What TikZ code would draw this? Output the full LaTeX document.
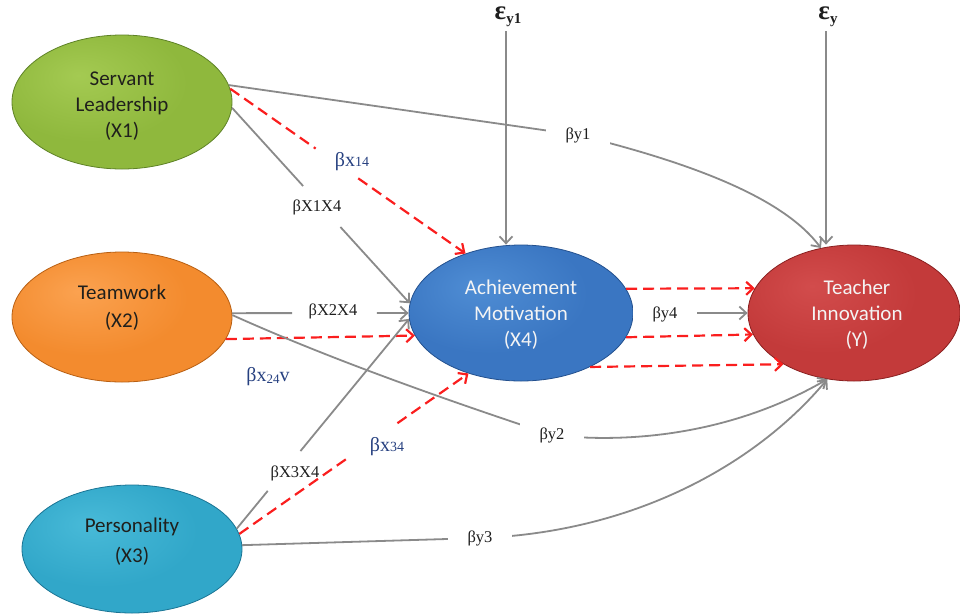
\documentclass[tikz,border=0pt]{standalone}
\usepackage{fontspec}
\setmainfont{Liberation Serif}
\newfontfamily\carl{Carlito}
\usetikzlibrary{shapes.geometric,arrows.meta,calc}

\definecolor{lgray}{RGB}{138,138,138}
\definecolor{lred}{RGB}{250,30,30}
\definecolor{navy}{RGB}{38,64,128}
\definecolor{lblk}{RGB}{30,30,30}
\definecolor{dtext}{RGB}{32,32,28}
\definecolor{wtext}{RGB}{244,244,244}

\definecolor{gL}{HTML}{A4CA52}\definecolor{gB}{HTML}{8FB83D}\definecolor{gE}{HTML}{72982F}\definecolor{gR}{HTML}{5E8226}
\definecolor{oL}{HTML}{FBA250}\definecolor{oB}{HTML}{F38B2E}\definecolor{oE}{HTML}{D3721C}\definecolor{oR}{HTML}{B85F12}
\definecolor{tL}{HTML}{48BAD8}\definecolor{tB}{HTML}{31A7C9}\definecolor{tE}{HTML}{238BAE}\definecolor{tR}{HTML}{1A7494}
\definecolor{bL}{HTML}{4F8DD4}\definecolor{bB}{HTML}{3A76C2}\definecolor{bE}{HTML}{2B61A8}\definecolor{bR}{HTML}{23508E}
\definecolor{rL}{HTML}{D24C4C}\definecolor{rB}{HTML}{C33A3A}\definecolor{rE}{HTML}{A42B2B}\definecolor{rR}{HTML}{8A2020}

\pgfdeclareradialshading{shgreen}{\pgfpoint{-10bp}{10bp}}{color(0bp)=(gL); color(22bp)=(gB); color(40bp)=(gB); color(47bp)=(gE); color(50bp)=(gR); color(75bp)=(gR)}
\pgfdeclareradialshading{shorange}{\pgfpoint{-10bp}{10bp}}{color(0bp)=(oL); color(22bp)=(oB); color(40bp)=(oB); color(47bp)=(oE); color(50bp)=(oR); color(75bp)=(oR)}
\pgfdeclareradialshading{shteal}{\pgfpoint{-10bp}{10bp}}{color(0bp)=(tL); color(22bp)=(tB); color(40bp)=(tB); color(47bp)=(tE); color(50bp)=(tR); color(75bp)=(tR)}
\pgfdeclareradialshading{shblue}{\pgfpoint{-10bp}{10bp}}{color(0bp)=(bL); color(22bp)=(bB); color(40bp)=(bB); color(47bp)=(bE); color(50bp)=(bR); color(75bp)=(bR)}
\pgfdeclareradialshading{shred}{\pgfpoint{-10bp}{10bp}}{color(0bp)=(rL); color(22bp)=(rB); color(40bp)=(rB); color(47bp)=(rE); color(50bp)=(rR); color(75bp)=(rR)}

\begin{document}
\begin{tikzpicture}[x=1pt,y=-1pt,
  ell/.style={ellipse, inner sep=0pt, line width=0.8pt},
  etext/.style={font=\carl\fontsize{21}{26}\selectfont, align=center, inner sep=0pt},
  gl/.style={draw=lgray, line width=1.8pt},
  rl/.style={draw=lred, line width=2.2pt, dash pattern=on 11pt off 6pt},
  arr/.style={-{Straight Barb[length=7pt,width=13pt]}},
  lbl/.style={font=\fontsize{16.5}{18}\selectfont, text=lblk, inner sep=0pt},
  blbl/.style={font=\fontsize{20}{20}\selectfont, text=navy, inner sep=0pt},
  clbl/.style={lbl, fill=white, inner xsep=20pt, inner ysep=4pt},
  epsl/.style={font=\bfseries\fontsize{27}{27}\selectfont, text=lblk, inner sep=0pt},
]
\useasboundingbox (0,0) rectangle (960,614);

% ellipses
\node[ell, shading=shgreen, draw=gR, minimum width=220pt, minimum height=134pt] (X1) at (122,102) {};
\node[ell, shading=shorange, draw=oR, minimum width=220pt, minimum height=130pt] (X2) at (122,317) {};
\node[ell, shading=shteal, draw=tR, minimum width=220pt, minimum height=128pt] (X3) at (132,549) {};
\node[ell, shading=shblue, draw=bR, minimum width=224pt, minimum height=136pt] (X4) at (521,313) {};
\node[ell, shading=shred, draw=rR, minimum width=212pt, minimum height=136pt] (Y) at (854,313) {};

% ellipse texts
\node[etext, text=dtext] (X1t) at (122,106) {Servant\\Leadership\\(X1)};
\node[etext, text=dtext, font=\carl\fontsize{21}{28}\selectfont] (X2t) at (122,308) {Teamwork\\(X2)};
\node[etext, text=dtext, font=\carl\fontsize{21}{30}\selectfont] (X3t) at (132,542) {Personality\\(X3)};
\node[etext, text=wtext] (X4t) at (521,315) {Achievement\\Motivation\\(X4)};
\node[etext, text=wtext] (Yt) at (857,315) {Teacher\\Innovation\\(Y)};

% error terms
\node[epsl] (e1) at (508,17) {ε\raisebox{-4pt}{\fontsize{15}{15}\selectfont y1}};
\node[epsl] (e2) at (828,17) {ε\raisebox{-4pt}{\fontsize{15}{15}\selectfont y}};
\coordinate (e1b) at (506,31);
\coordinate (e2b) at (826,31);
\draw[gl,arr] (e1b) -- (e1b |- X4.north);
\draw[gl,arr] (e2b) -- (e2b |- Y.north);

% label anchor points on curves
\coordinate (b1) at (578,135);
\coordinate (b2) at (552,435);
\coordinate (b3) at (480,538);
\coordinate (b4) at (665,314);

% X1 -> Y
\draw[gl,arr] (X1.9) -- (b1) .. controls (700,165) and (785,200) .. (Y.117);
% X1 -> X4 gray
\draw[gl,arr] (X1.-3) -- ($(X1.-3)!0.40!(X4.175)$) ($(X1.-3)!0.61!(X4.175)$) -- (X4.175);
% X1 -> X4 red
\draw[rl,arr] (X1.7) -- ($(X1.7)!0.363!(X4.133)$) ($(X1.7)!0.544!(X4.133)$) -- (X4.133);

% X2 -> X4 gray
\draw[gl,arr] (X2.2) -- ($(X2.2)!0.34!(X4.west)$) ($(X2.2)!0.82!(X4.west)$) -- (X4.west);
% X2 -> X4 red
\draw[rl,arr] (X2.-12.6) -- (X4.192);
% X2 -> Y
\draw[gl,arr] (X2.1) .. controls (321,355) and (428,394) .. (b2) .. controls (640,445) and (740,430) .. (Y.248);

% X3 -> X4 gray
\draw[gl,arr] (X3.11) -- ($(X3.11)!0.18!(X4.183)$) ($(X3.11)!0.37!(X4.183)$) -- (X4.183);
% X3 -> X4 red
\draw[rl,arr] (X3.8) -- ($(X3.8)!0.47!(X4.229)$) ($(X3.8)!0.69!(X4.229)$) -- (X4.229);
% X3 -> Y
\draw[gl,arr] (X3.2) -- (b3) .. controls (640,532) and (760,460) .. (Y.248);

% X4 -> Y
\draw[gl,arr] (X4.east) -- (Y.west);
\draw[rl,arr] (X4.13.5) -- (Y.166);
\draw[rl,arr] (X4.-13) -- (Y.192);
\draw[rl,arr] (X4.-38.5) -- (Y.216);

% path labels
\node[lbl] (l14) at (317,207) {βX1X4};
\node[blbl] (lx14) at (352,162) {βx{\fontsize{14}{14}\selectfont 14}};
\node[lbl] (l24) at (333,311) {βX2X4};
\node[blbl] (lx24) at (268,377) {βx\raisebox{-2pt}{\fontsize{13}{13}\selectfont 24}v};
\node[lbl] (l34) at (295,473) {βX3X4};
\node[blbl] (lx34) at (387,447) {βx{\fontsize{14}{14}\selectfont 34}};
\node[clbl] (ly1) at (b1) {βy1};
\node[clbl] (ly2) at (b2) {βy2};
\node[clbl] (ly3) at (b3) {βy3};
\node[clbl] (ly4) at (b4) {βy4};
\end{tikzpicture}
\end{document}
